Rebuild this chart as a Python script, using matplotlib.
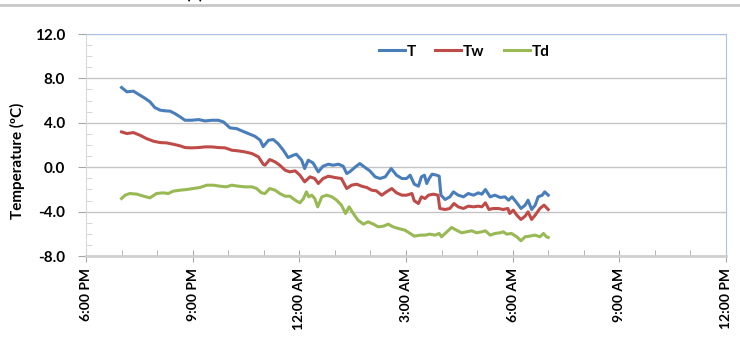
import datetime as dt
import matplotlib
matplotlib.use("Agg")
import matplotlib.pyplot as plt
import matplotlib.dates as mdates
from matplotlib.lines import Line2D

plt.rcParams['font.family'] = ['Lato', 'DejaVu Sans']

# air temperature
t_times = ["19:00", "19:09", "19:20", "19:31", "19:40", "19:48", "19:56", "20:05", "20:13", "20:22",
           "20:30", "20:39", "20:47", "20:58", "21:10", "21:21", "21:32", "21:43", "21:52", "22:03",
           "22:14", "22:23", "22:34", "22:45", "22:54", "22:59", "23:08", "23:16", "23:24", "23:33",
           "23:41", "23:50", "23:55", "00:04", "00:09", "00:15", "00:23", "00:32", "00:40", "00:49",
           "00:57", "01:06", "01:14", "01:20", "01:25", "01:34", "01:42", "01:51", "01:59", "02:08",
           "02:16", "02:25", "02:35", "02:44", "02:53", "03:01", "03:07", "03:14", "03:21", "03:26",
           "03:31", "03:35", "03:39", "03:44", "03:52", "03:56", "03:59", "04:06", "04:14", "04:20",
           "04:28", "04:37", "04:45", "04:54", "05:02", "05:08", "05:14", "05:22", "05:30", "05:39",
           "05:47", "05:53", "05:59", "06:07", "06:14", "06:21", "06:26", "06:32", "06:38", "06:43",
           "06:50", "06:54", "07:00"]
t_vals = [7.18, 6.79, 6.85, 6.49, 6.19, 5.89, 5.38, 5.14, 5.08, 5.05,
          4.83, 4.53, 4.23, 4.23, 4.29, 4.17, 4.23, 4.23, 4.08, 3.54,
          3.48, 3.27, 3.03, 2.79, 2.43, 1.85, 2.43, 2.49, 2.13, 1.53,
          0.87, 1.08, 1.17, 0.63, -0.12, 0.63, 0.39, -0.42, 0.09, 0.27,
          0.18, 0.27, 0.09, -0.57, -0.42, 0.0, 0.33, -0.03, -0.33, -0.87,
          -1.02, -0.87, -0.12, -0.72, -1.02, -1.02, -0.72, -1.53, -1.71, -0.87,
          -0.72, -1.47, -1.02, -0.63, -0.72, -0.81, -2.52, -2.91, -2.67, -2.22,
          -2.52, -2.67, -2.37, -2.52, -2.31, -2.43, -2.01, -2.67, -2.52, -2.73,
          -2.67, -2.97, -2.67, -3.21, -3.72, -3.42, -2.97, -3.81, -3.42, -2.67,
          -2.52, -2.22, -2.52]

# wet bulb
tw_times = ["19:00", "19:09", "19:20", "19:31", "19:42", "19:54", "20:05", "20:16", "20:27", "20:39",
            "20:47", "20:58", "21:10", "21:21", "21:32", "21:43", "21:55", "22:06", "22:17", "22:28",
            "22:40", "22:51", "22:59", "23:02", "23:10", "23:19", "23:27", "23:36", "23:44", "23:53",
            "00:01", "00:09", "00:18", "00:26", "00:32", "00:40", "00:49", "01:00", "01:11", "01:20",
            "01:28", "01:37", "01:45", "01:54", "02:02", "02:10", "02:19", "02:27", "02:36", "02:44",
            "02:53", "03:01", "03:10", "03:14", "03:21", "03:26", "03:32", "03:38", "03:46", "03:54",
            "03:57", "04:06", "04:14", "04:21", "04:28", "04:37", "04:45", "04:54", "05:02", "05:08",
            "05:14", "05:20", "05:27", "05:36", "05:44", "05:52", "05:55", "06:01", "06:07", "06:14",
            "06:21", "06:26", "06:32", "06:38", "06:46", "06:53", "07:00"]
tw_vals = [3.18, 3.03, 3.12, 2.88, 2.58, 2.34, 2.22, 2.19, 2.07, 1.92,
           1.77, 1.74, 1.77, 1.83, 1.83, 1.77, 1.74, 1.53, 1.47, 1.38,
           1.23, 0.93, 0.27, 0.18, 0.69, 0.48, 0.18, -0.27, -0.42, -0.33,
           -0.72, -1.32, -0.87, -1.02, -1.47, -1.02, -0.81, -0.93, -1.02, -1.92,
           -1.62, -1.53, -1.71, -1.83, -2.07, -2.13, -2.52, -2.22, -1.92, -2.31,
           -2.52, -2.52, -2.37, -3.03, -3.27, -2.67, -2.82, -2.52, -2.43, -2.52,
           -3.72, -3.81, -3.72, -3.27, -3.57, -3.72, -3.51, -3.57, -3.51, -3.57,
           -3.21, -3.81, -3.72, -3.72, -3.81, -3.72, -4.17, -3.87, -4.32, -4.71,
           -4.41, -4.02, -4.71, -4.32, -3.72, -3.42, -3.81]

# dew point
td_times = ["19:00", "19:06", "19:14", "19:26", "19:37", "19:48", "19:59", "20:10", "20:19", "20:27",
            "20:39", "20:50", "21:01", "21:12", "21:24", "21:35", "21:46", "21:57", "22:06", "22:17",
            "22:28", "22:40", "22:48", "22:56", "23:02", "23:10", "23:19", "23:27", "23:36", "23:44",
            "23:53", "00:01", "00:07", "00:12", "00:16", "00:21", "00:26", "00:31", "00:38", "00:46",
            "00:55", "01:03", "01:11", "01:18", "01:24", "01:31", "01:39", "01:48", "01:56", "02:05",
            "02:13", "02:22", "02:30", "02:38", "02:47", "02:58", "03:07", "03:14", "03:24", "03:32",
            "03:40", "03:49", "03:56", "04:00", "04:09", "04:17", "04:25", "04:34", "04:42", "04:51",
            "04:59", "05:08", "05:14", "05:22", "05:30", "05:39", "05:44", "05:50", "05:58", "06:07",
            "06:14", "06:21", "06:29", "06:38", "06:46", "06:52", "06:57", "07:00"]
td_vals = [-2.82, -2.52, -2.37, -2.43, -2.61, -2.76, -2.37, -2.31, -2.37, -2.16,
           -2.07, -2.01, -1.92, -1.83, -1.62, -1.62, -1.71, -1.77, -1.62, -1.71,
           -1.77, -1.77, -1.92, -2.31, -2.37, -1.92, -2.07, -2.37, -2.61, -2.61,
           -2.97, -3.21, -2.82, -2.22, -2.67, -2.52, -2.82, -3.57, -2.67, -2.52,
           -2.67, -2.97, -3.42, -4.17, -3.57, -4.17, -4.77, -5.13, -4.92, -5.13,
           -5.37, -5.31, -5.13, -5.37, -5.52, -5.67, -5.97, -6.21, -6.12, -6.12,
           -6.03, -6.12, -5.97, -6.27, -5.82, -5.43, -5.67, -5.91, -5.82, -5.73,
           -5.91, -5.82, -5.73, -6.12, -5.97, -5.91, -5.82, -6.03, -5.97, -6.27,
           -6.63, -6.27, -6.21, -6.12, -6.27, -5.97, -6.27, -6.33]


def to_dt(clock):
    h, m = map(int, clock.split(":"))
    day = 1 if h >= 12 else 2
    return dt.datetime(2000, 1, day, h, m)


fig = plt.figure(figsize=(7.40, 3.59), dpi=100)
ax = fig.add_axes([86 / 740, 1 - 256 / 359, 640 / 740, 222 / 359])

ax.plot([to_dt(s) for s in t_times], t_vals, color='#4a7ebb', lw=2.2, label='T')
ax.plot([to_dt(s) for s in tw_times], tw_vals, color='#be4b48', lw=2.2, label='Tw')
ax.plot([to_dt(s) for s in td_times], td_vals, color='#98b954', lw=2.2, label='Td')

ax.set_xlim(dt.datetime(2000, 1, 1, 18, 0), dt.datetime(2000, 1, 2, 12, 0))
ax.set_ylim(-8, 12)

ax.xaxis.set_major_locator(mdates.HourLocator(byhour=[0, 3, 6, 9, 12, 15, 18, 21]))
ax.xaxis.set_minor_locator(mdates.HourLocator())
ax.xaxis.set_major_formatter(mdates.DateFormatter('%-I:%M %p'))
ax.set_yticks([-8, -4, 0, 4, 8, 12])
ax.set_yticks(range(-8, 13), minor=True)
ax.yaxis.set_major_formatter(matplotlib.ticker.FormatStrFormatter('%.1f'))

for lab in ax.get_xticklabels():
    lab.set_rotation(90)
    lab.set_fontweight('bold')
    lab.set_fontsize(10)
for lab in ax.get_yticklabels():
    lab.set_fontweight('bold')
    lab.set_fontsize(11)

ax.tick_params(axis='x', which='major', direction='inout', length=9, color='#a6a6a6', pad=4)
ax.tick_params(axis='x', which='minor', direction='in', length=4, color='#a6a6a6')
ax.tick_params(axis='y', which='major', direction='out', length=6, color='#a6a6a6', pad=9)
ax.tick_params(axis='y', which='minor', direction='in', length=4, color='#d0d0d0')

ax.grid(axis='y', which='major', color='#c4c4c4', lw=1)
ax.set_axisbelow(True)

ax.spines['top'].set_color('#a9c4e8')
ax.spines['right'].set_color('#a9c4e8')
ax.spines['left'].set_color('#d9d9d9')
ax.spines['bottom'].set_color('#d0d0d0')
ax.spines['bottom'].set_linewidth(2)

ax.set_ylabel('Temperature (ºC)', fontsize=11, fontweight='bold')
ax.yaxis.set_label_coords(-0.096, 0.43)

ax.legend(loc='center', bbox_to_anchor=(0.591, 0.92), ncol=3, frameon=False,
          handlelength=1.7, handletextpad=0.1, columnspacing=1.3,
          prop={'weight': 'bold', 'size': 11})

# rule and clipped panel tag along the top edge
fig.add_artist(Line2D([0, 1], [1 - 4.5 / 359, 1 - 4.5 / 359], color='#c8c8c8', lw=2))
fig.text(195 / 740, 1 + 6 / 359, '(b)', ha='center', va='center', fontsize=12, fontweight='bold')

fig.savefig('out.png', dpi=100)
